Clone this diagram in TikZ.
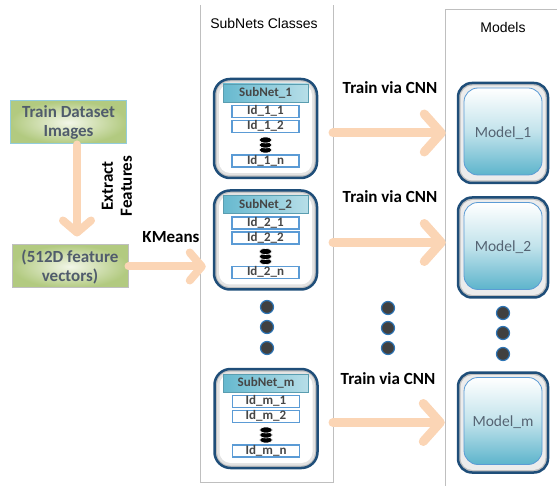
\documentclass[tikz,border=0pt]{standalone}
\usepackage{fontspec}
\setmainfont{Carlito}
\newfontfamily\arialf{Liberation Sans}
\usetikzlibrary{arrows.meta,shapes.geometric}
\definecolor{peach}{RGB}{251,213,181}
\definecolor{navy}{RGB}{31,78,121}
\definecolor{itemblue}{RGB}{91,155,213}
\definecolor{tealA}{RGB}{75,172,198}
\definecolor{tealB}{RGB}{183,222,232}
\definecolor{tealdk}{RGB}{49,133,156}
\definecolor{grtxt}{RGB}{80,92,108}
\definecolor{greenA}{RGB}{178,202,128}
\definecolor{greenB}{RGB}{242,246,232}
\definecolor{panelc}{RGB}{191,191,191}
\definecolor{dotfill}{RGB}{64,64,64}
\definecolor{dotline}{RGB}{46,117,182}
\definecolor{itemtxt}{RGB}{70,70,70}
\definecolor{mtxt}{RGB}{85,100,115}
\definecolor{trainborder}{RGB}{146,205,220}
\tikzset{
  panelline/.style={draw=panelc, line width=0.8pt},
  paneltitle/.style={font=\arialf\fontsize{14}{16}\selectfont, text=black, inner sep=0pt},
  greenbox/.style={rectangle, minimum width=116pt, minimum height=43pt, inner sep=2pt,
    inner color=greenB, outer color=greenA, text=grtxt, align=center,
    font=\bfseries\fontsize{17}{19}\selectfont},
  lbl/.style={font=\bfseries\fontsize{17}{19}\selectfont, text=black, inner sep=0pt, align=center},
  parrow/.style={draw=peach, line width=8pt, line cap=round,
    -{Straight Barb[length=12pt,width=28pt,round]}},
  parrowB/.style={draw=peach, line width=9pt, line cap=round,
    -{Straight Barb[length=17pt,width=38pt,round]}},
  subnetbox/.style={rectangle, rounded corners=16pt, minimum width=103pt, minimum height=99pt,
    draw=navy, line width=2.5pt, fill=gray!50, inner sep=0pt,
    path picture={
      \fill[gray!22, rounded corners=13pt] ([shift={(2.5pt,2.5pt)}]path picture bounding box.south west) rectangle ([shift={(-2.5pt,-2.5pt)}]path picture bounding box.north east);
      \fill[white, rounded corners=11pt] ([shift={(5pt,5pt)}]path picture bounding box.south west) rectangle ([shift={(-5pt,-5pt)}]path picture bounding box.north east);
    }},
  snhead/.style={rectangle, minimum width=85pt, minimum height=18pt, inner sep=0pt,
    left color=tealA!85, right color=tealB, draw=tealdk!80, line width=0.8pt,
    text=itemtxt, font=\bfseries\fontsize{13}{15}\selectfont},
  item/.style={rectangle, minimum width=67pt, minimum height=12pt, inner sep=0pt,
    text height=9pt, text depth=2.5pt, fill=white, draw=itemblue, line width=1.1pt,
    text=itemtxt, font=\bfseries\fontsize{13}{15}\selectfont},
  dotc/.style={circle, minimum size=13pt, inner sep=0pt, fill=dotfill, draw=dotline, line width=1.2pt},
  modelbox/.style={rectangle, rounded corners=14pt, minimum width=90pt, minimum height=100pt,
    draw=navy, line width=2.5pt, fill=gray!50, inner sep=0pt, text=mtxt,
    font=\fontsize{15.5}{18}\selectfont,
    path picture={
      \fill[gray!15, rounded corners=12pt] ([shift={(2.5pt,2.5pt)}]path picture bounding box.south west) rectangle ([shift={(-2.5pt,-2.5pt)}]path picture bounding box.north east);
      \path[top color=white, bottom color=tealA!90, middle color=tealB!85, draw=itemblue, line width=0.8pt] ([shift={(6pt,8pt)}]path picture bounding box.south west) rectangle ([shift={(-6pt,-5pt)}]path picture bounding box.north east);
    }},
}
\newcommand\mysubnet[4]{%
  \node[subnetbox] (#1) at (#2,#3) {};
  \node[snhead] (#1h) at ([yshift=35.5pt]#1.center) {SubNet\_#4};
  \node[item] (#1a) at ([yshift=17pt]#1.center) {Id\_#4\_1};
  \node[item] (#1b) at ([yshift=2pt]#1.center) {Id\_#4\_2};
  \coordinate (#1s) at ([yshift=-16.5pt]#1.center);
  \foreach \dy in {-5,0,5}{
    \filldraw[fill=black, draw=white, line width=0.6pt] ([yshift=\dy pt]#1s) ellipse (6.5pt and 3pt);
  }
  \node[item] (#1n) at ([yshift=-32.5pt]#1.center) {Id\_#4\_n};
}
\begin{document}
\begin{tikzpicture}[x=1pt, y=-1pt]
\useasboundingbox (0,0) rectangle (557,486);
% panels
\draw[panelline] (200,5) -- (200,482) -- (333,482) -- (333,5);
\draw[panelline] (445,486) -- (445,9) -- (557,9);
\coordinate (pr) at (333,0);
\node[paneltitle] (t1) at (264,23) {SubNets Classes};
\node[paneltitle] (t2) at (503,27) {Models};
% left
\node[greenbox, draw=trainborder, line width=1pt] (train) at (68.5,122.5) {Train Dataset\\Images};
\node[greenbox, draw=panelc, line width=1pt] (feat) at (70,266.5) {(512D feature\\vectors)};
\draw[parrow] ([xshift=8.5pt]train.south) -- ([xshift=7pt,yshift=8pt]feat.north);
\node[lbl, rotate=90] (ext) at (117,186) {Extract\\Features};
% subnets
\mysubnet{sn1}{265.5}{128.5}{1}
\mysubnet{sn2}{265.5}{240}{2}
\mysubnet{snm}{266}{418.5}{m}
\draw[parrow] (feat.east) -- ([xshift=-7pt]sn2.west |- feat.east);
\node[lbl] (km) at (171,237) {KMeans};
\node[dotc] (d1) at (267,307) {};
\node[dotc] (d2) at (267,327) {};
\node[dotc] (d3) at (267,348) {};
% models
\node[modelbox] (m1) at (503,133) {Model\_1};
\node[modelbox] (m2) at (503,247.5) {Model\_2};
\node[modelbox] (mm) at (503,422.5) {Model\_m};
\node[dotc] (e1) at (503,313) {};
\node[dotc] (e2) at (503,333) {};
\node[dotc] (e3) at (503,354) {};
\node[dotc] (c1) at (388,308) {};
\node[dotc] (c2) at (388,328) {};
\node[dotc] (c3) at (388,348) {};
% train arrows
\draw[parrowB] (pr |- m1.west) -- ([xshift=-11pt]m1.west);
\draw[parrowB] ([yshift=5pt]pr |- m2.west) -- ([xshift=-11pt,yshift=5pt]m2.west);
\draw[parrowB] (pr |- mm.west) -- ([xshift=-12pt]mm.west);
\node[lbl] (l1) at (390,88) {Train via CNN};
\node[lbl] (l2) at (390,197) {Train via CNN};
\node[lbl] (l3) at (388,379) {Train via CNN};
\end{tikzpicture}
\end{document}
